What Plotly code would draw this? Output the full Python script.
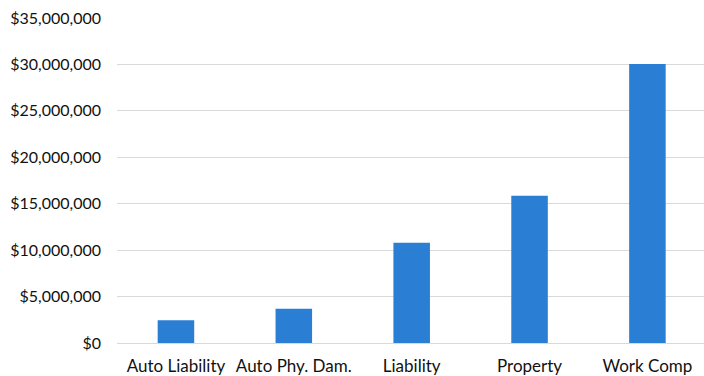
import plotly.graph_objects as go

categories = ["Auto Liability", "Auto Phy. Dam.", "Liability", "Property", "Work Comp"]
values = [2_450_000, 3_700_000, 10_800_000, 15_870_000, 30_050_000]
tick_vals = [0, 5_000_000, 10_000_000, 15_000_000, 20_000_000, 25_000_000, 30_000_000, 35_000_000]
tick_text = ["$0", "$5,000,000", "$10,000,000", "$15,000,000", "$20,000,000",
             "$25,000,000", "$30,000,000", "$35,000,000"]

fig = go.Figure(go.Bar(x=categories, y=values, marker_color="#2a7fd5", marker_line_width=0))

fig.update_layout(
    width=704, height=376,
    margin=dict(l=117, r=0, t=18, b=33),
    paper_bgcolor="white", plot_bgcolor="white",
    bargap=0.69,
    showlegend=False,
    font=dict(family="Lato", size=16, color="#111111"),
)
fig.update_xaxes(range=[-0.5, 4.48], showgrid=False, showline=False, ticks="",
                 ticklabelstandoff=11, tickfont=dict(size=17))
fig.update_yaxes(range=[0, 35_000_000], tickvals=tick_vals, ticktext=tick_text,
                 showgrid=True, gridcolor="#d9d9d9", gridwidth=1,
                 zeroline=True, zerolinecolor="#d9d9d9", zerolinewidth=1,
                 showline=False, ticks="", ticklabelstandoff=15, tickfont=dict(size=16))

fig.write_html("out.html")
